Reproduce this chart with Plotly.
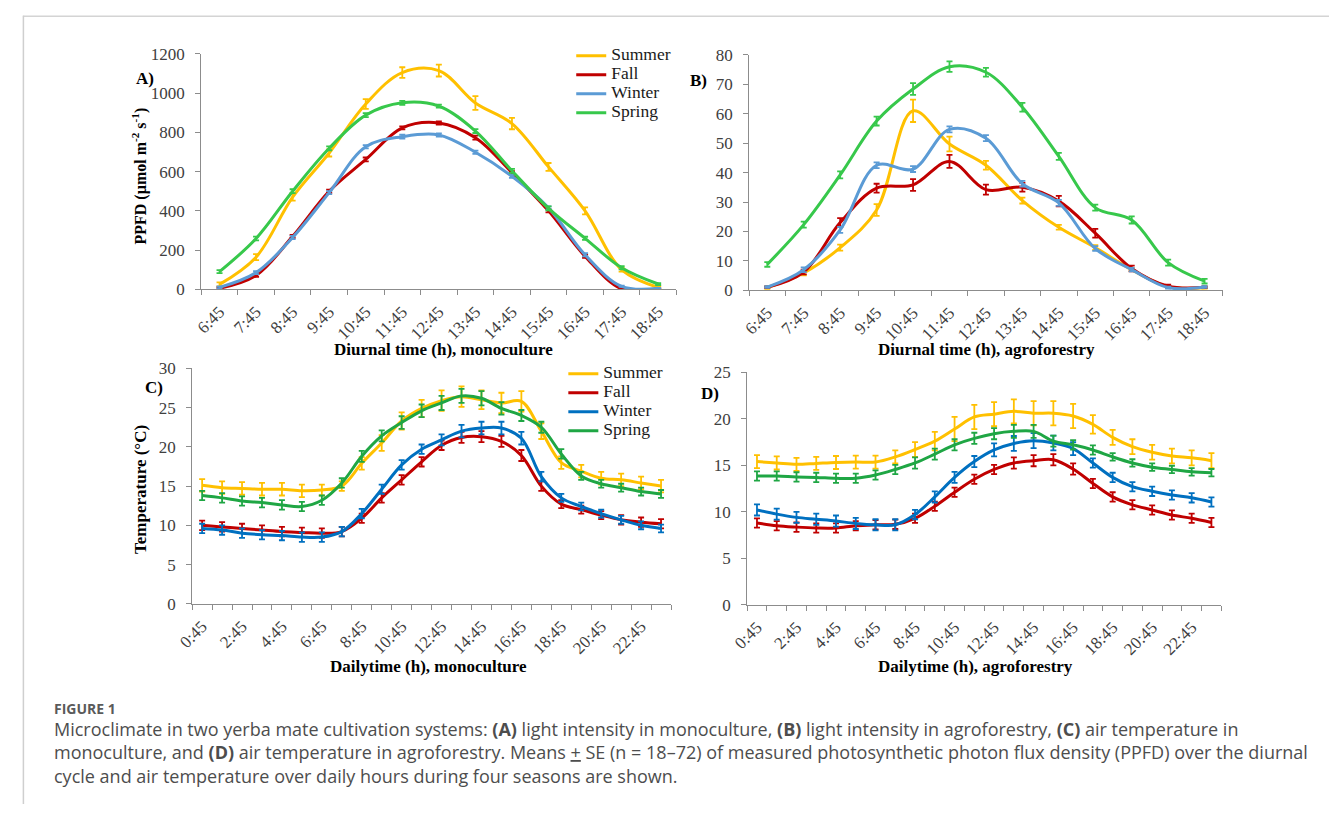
import plotly.graph_objects as go

W, H = 1329, 814
SERIF = "Liberation Serif"
SANS = "Open Sans"
AXIS_COLOR = "#8c8c8c"
TICK_COLOR = "#404040"

SEASONS = ["Summer", "Fall", "Winter", "Spring"]

# time-of-day category labels
DIURNAL_TIMES = ["6:45", "7:45", "8:45", "9:45", "10:45", "11:45", "12:45",
                 "13:45", "14:45", "15:45", "16:45", "17:45", "18:45"]
DAILY_TIMES = ["0:45", "1:45", "2:45", "3:45", "4:45", "5:45", "6:45", "7:45",
               "8:45", "9:45", "10:45", "11:45", "12:45", "13:45", "14:45", "15:45",
               "16:45", "17:45", "18:45", "19:45", "20:45", "21:45", "22:45", "23:45"]

# (A) PPFD, monoculture  (µmol m-2 s-1)
ppfd_mono_summer = [25, 164, 470, 695, 945, 1105, 1115, 950, 845, 624, 400, 100, 10]
ppfd_mono_fall = [5, 71, 270, 500, 662, 823, 848, 773, 595, 400, 168, 2, 0]
ppfd_mono_winter = [10, 85, 264, 493, 727, 778, 787, 699, 576, 415, 176, 15, 5]
ppfd_mono_spring = [90, 259, 500, 719, 888, 951, 934, 807, 604, 413, 260, 110, 27]
ppfd_mono_summer_se = [10, 15, 18, 18, 25, 27, 30, 35, 29, 20, 18, 10, 5]
ppfd_mono_fall_se = [5, 8, 8, 8, 10, 8, 8, 10, 8, 8, 8, 3, 2]
ppfd_mono_winter_se = [5, 8, 8, 8, 8, 10, 8, 8, 8, 8, 8, 3, 2]
ppfd_mono_spring_se = [8, 10, 10, 10, 10, 10, 8, 10, 10, 10, 8, 8, 5]

# (B) PPFD, agroforestry
ppfd_agro_summer = [0.9, 5.9, 14.5, 27.3, 61.0, 49.7, 42.5, 30.5, 21.4, 14.5, 7.0, 1.2, 0.9]
ppfd_agro_fall = [1.0, 6.2, 23.0, 34.7, 35.8, 43.8, 34.2, 35.0, 30.3, 19.4, 7.4, 1.4, 1.0]
ppfd_agro_winter = [1.1, 7.0, 20.5, 42.5, 41.2, 54.7, 51.7, 36.2, 29.7, 14.2, 7.0, 0.9, 1.1]
ppfd_agro_spring = [8.8, 22.3, 39.2, 57.5, 68.4, 76.0, 74.1, 62.2, 45.5, 28.1, 23.9, 9.4, 3.1]
ppfd_agro_summer_se = [0.4, 0.8, 1.0, 2.0, 3.8, 2.5, 1.5, 1.0, 0.8, 0.8, 0.5, 0.3, 0.3]
ppfd_agro_fall_se = [0.3, 0.8, 1.5, 1.5, 2.0, 2.2, 1.7, 1.5, 1.8, 1.5, 1.0, 0.5, 0.3]
ppfd_agro_winter_se = [0.3, 0.8, 1.0, 1.0, 1.0, 1.0, 1.0, 1.0, 1.0, 0.8, 0.6, 0.3, 0.3]
ppfd_agro_spring_se = [0.8, 1.0, 1.2, 1.5, 2.0, 1.8, 1.5, 1.5, 1.2, 1.0, 1.2, 1.0, 0.8]

# (C) air temperature, monoculture (°C)
temp_mono_summer = [15.1, 14.8, 14.7, 14.6, 14.6, 14.4, 14.5, 15.0, 17.9, 20.5, 23.3, 24.9,
                    25.9, 26.4, 26.0, 25.6, 25.8, 22.0, 18.0, 16.9, 16.0, 15.8, 15.4, 15.0]
temp_mono_fall = [10.0, 9.8, 9.6, 9.4, 9.2, 9.1, 9.0, 9.2, 10.9, 13.5, 15.8, 18.1,
                  20.2, 21.2, 21.3, 20.7, 18.9, 15.0, 12.7, 12.0, 11.3, 10.7, 10.4, 10.2]
temp_mono_winter = [9.6, 9.4, 9.0, 8.8, 8.7, 8.5, 8.5, 9.2, 11.5, 14.6, 17.7, 19.7,
                    20.9, 22.0, 22.4, 22.4, 21.1, 16.2, 13.5, 12.4, 11.5, 10.7, 10.0, 9.6]
temp_mono_spring = [13.8, 13.5, 13.1, 12.9, 12.6, 12.4, 13.2, 15.4, 18.8, 21.4, 23.1, 24.6,
                    25.6, 26.5, 26.2, 24.9, 24.0, 22.5, 19.1, 16.3, 15.3, 14.8, 14.3, 14.0]
temp_mono_summer_se = [0.8, 0.8, 0.8, 0.8, 0.8, 0.8, 0.7, 0.6, 0.8, 1.0, 1.1, 1.1,
                       1.3, 1.3, 1.2, 1.3, 1.3, 1.0, 0.8, 0.8, 0.8, 0.8, 0.8, 0.8]
temp_mono_fall_se = [0.6, 0.6, 0.6, 0.6, 0.6, 0.6, 0.6, 0.6, 0.6, 0.6, 0.6, 0.6,
                     0.6, 0.7, 0.7, 0.7, 0.7, 0.6, 0.5, 0.5, 0.5, 0.6, 0.6, 0.6]
temp_mono_winter_se = [0.6, 0.6, 0.6, 0.6, 0.6, 0.6, 0.6, 0.6, 0.6, 0.6, 0.6, 0.6,
                       0.7, 0.8, 0.8, 0.8, 0.8, 0.6, 0.5, 0.5, 0.5, 0.5, 0.5, 0.5]
temp_mono_spring_se = [0.6, 0.6, 0.6, 0.6, 0.6, 0.6, 0.6, 0.6, 0.7, 0.7, 0.8, 0.8,
                       0.9, 0.9, 0.9, 0.8, 0.7, 0.7, 0.6, 0.5, 0.5, 0.5, 0.5, 0.5]

# (D) air temperature, agroforestry (°C)
temp_agro_summer = [15.4, 15.25, 15.1, 15.2, 15.3, 15.35, 15.35, 15.9, 16.7, 17.6, 18.9, 20.2,
                    20.5, 20.8, 20.6, 20.6, 20.3, 19.4, 18.0, 17.0, 16.4, 16.0, 15.8, 15.5]
temp_agro_fall = [8.8, 8.5, 8.35, 8.25, 8.25, 8.5, 8.6, 8.65, 9.3, 10.6, 12.1, 13.5,
                  14.55, 15.25, 15.5, 15.6, 14.6, 13.05, 11.6, 10.75, 10.2, 9.65, 9.3, 8.85]
temp_agro_winter = [10.2, 9.75, 9.4, 9.2, 9.0, 8.75, 8.6, 8.6, 9.7, 11.6, 13.7, 15.4,
                    16.65, 17.35, 17.65, 17.4, 16.8, 15.25, 13.7, 12.7, 12.2, 11.8, 11.5, 11.05]
temp_agro_spring = [13.85, 13.85, 13.75, 13.7, 13.6, 13.6, 13.95, 14.55, 15.25, 16.2, 17.2, 17.9,
                    18.4, 18.65, 18.65, 17.6, 17.2, 16.65, 15.9, 15.25, 14.8, 14.55, 14.3, 14.2]
temp_agro_summer_se = [0.7, 0.7, 0.7, 0.7, 0.7, 0.7, 0.7, 0.7, 0.8, 1.0, 1.3, 1.3,
                       1.3, 1.3, 1.3, 1.3, 1.3, 1.0, 0.8, 0.8, 0.8, 0.8, 0.8, 0.8]
temp_agro_fall_se = [0.5, 0.5, 0.5, 0.5, 0.5, 0.5, 0.5, 0.5, 0.5, 0.5, 0.5, 0.5,
                     0.5, 0.6, 0.6, 0.6, 0.6, 0.5, 0.5, 0.5, 0.5, 0.5, 0.5, 0.5]
temp_agro_winter_se = [0.6, 0.6, 0.6, 0.6, 0.6, 0.6, 0.6, 0.6, 0.5, 0.6, 0.6, 0.6,
                       0.7, 0.8, 0.8, 0.8, 0.7, 0.5, 0.5, 0.5, 0.5, 0.5, 0.5, 0.5]
temp_agro_spring_se = [0.5, 0.5, 0.5, 0.5, 0.5, 0.5, 0.5, 0.5, 0.6, 0.6, 0.6, 0.6,
                       0.6, 0.7, 0.7, 0.6, 0.5, 0.5, 0.4, 0.4, 0.4, 0.4, 0.4, 0.4]

COLORS_LIGHT = ["#FFC000", "#C00000", "#5B9BD5", "#37C84B"]
COLORS_TEMP = ["#FFC000", "#C00000", "#0070C0", "#1FA644"]


def to_hours(label):
    h, m = label.split(":")
    return int(h) + int(m) / 60.0


def fx(px):
    return px / W


def fy(py):
    return 1 - py / H


diurnal_x = [to_hours(t) for t in DIURNAL_TIMES]
daily_x = [to_hours(t) for t in DAILY_TIMES]

fig = go.Figure()

panels = [
    ("x", "y", diurnal_x, [ppfd_mono_summer, ppfd_mono_fall, ppfd_mono_winter, ppfd_mono_spring],
     [ppfd_mono_summer_se, ppfd_mono_fall_se, ppfd_mono_winter_se, ppfd_mono_spring_se], COLORS_LIGHT, "legend"),
    ("x2", "y2", diurnal_x, [ppfd_agro_summer, ppfd_agro_fall, ppfd_agro_winter, ppfd_agro_spring],
     [ppfd_agro_summer_se, ppfd_agro_fall_se, ppfd_agro_winter_se, ppfd_agro_spring_se], COLORS_LIGHT, None),
    ("x3", "y3", daily_x, [temp_mono_summer, temp_mono_fall, temp_mono_winter, temp_mono_spring],
     [temp_mono_summer_se, temp_mono_fall_se, temp_mono_winter_se, temp_mono_spring_se], COLORS_TEMP, "legend2"),
    ("x4", "y4", daily_x, [temp_agro_summer, temp_agro_fall, temp_agro_winter, temp_agro_spring],
     [temp_agro_summer_se, temp_agro_fall_se, temp_agro_winter_se, temp_agro_spring_se], COLORS_TEMP, None),
]

for xa, ya, xs, series, errs, colors, leg in panels:
    for name, ys, se, c in zip(SEASONS, series, errs, colors):
        kw = dict(legend=leg, showlegend=True) if leg else dict(showlegend=False)
        fig.add_trace(go.Scatter(
            x=xs, y=ys, xaxis=xa, yaxis=ya, mode="lines",
            name='<span style="font-size:17.5px">%s</span>' % name,
            line=dict(color=c, width=3, shape="spline", smoothing=1.0),
            error_y=dict(type="data", array=se, visible=True, color=c, thickness=1.8, width=3),
            hoverinfo="skip", **kw))


def x_axis(dom, rng, vals, texts, anchor):
    return dict(domain=[fx(dom[0]), fx(dom[1])], range=rng, anchor=anchor,
                tickmode="array", tickvals=vals, ticktext=texts, tickangle=-45,
                ticks="outside", ticklen=5, tickcolor="rgba(0,0,0,0)",
                showline=True, linecolor=AXIS_COLOR, linewidth=1,
                showgrid=False, zeroline=False,
                tickfont=dict(family=SERIF, size=17, color=TICK_COLOR),
                minor=dict(tickmode="linear", tick0=rng[0], dtick=1, ticks="outside",
                           ticklen=5, tickcolor=AXIS_COLOR, tickwidth=1, showgrid=False))


def y_axis(dom, rng, dt, anchor):
    return dict(domain=[fy(dom[1]), fy(dom[0])], range=rng, anchor=anchor, dtick=dt,
                tickmode="linear", tick0=0,
                ticks="outside", ticklen=5, tickcolor=AXIS_COLOR, ticklabelstandoff=7,
                showline=True, linecolor=AXIS_COLOR, linewidth=1,
                showgrid=False, zeroline=False,
                tickfont=dict(family=SERIF, size=17, color=TICK_COLOR))


d_rng = [diurnal_x[0] - 0.5, diurnal_x[-1] + 0.5]
a_rng = [daily_x[0] - 0.5, daily_x[-1] + 0.5]

fig.update_layout(
    xaxis=x_axis((187.5, 668.5), d_rng, diurnal_x, DIURNAL_TIMES, "y"),
    yaxis=y_axis((46, 287), [0, 1200], 200, "x"),
    xaxis2=x_axis((742, 1221.5), d_rng, diurnal_x, DIURNAL_TIMES, "y2"),
    yaxis2=y_axis((47, 288), [0, 80], 10, "x2"),
    xaxis3=x_axis((178.3, 663), a_rng, daily_x[::2], DAILY_TIMES[::2], "y3"),
    yaxis3=y_axis((368, 609), [0, 30], 5, "x3"),
    xaxis4=x_axis((740, 1220), a_rng, daily_x[::2], DAILY_TIMES[::2], "y4"),
    yaxis4=y_axis((372, 610), [0, 25], 5, "x4"),
)

legend_style = dict(font=dict(family=SERIF, size=11.5, color="#1a1a1a"), bgcolor="rgba(0,0,0,0)",
                    borderwidth=0, xanchor="left", yanchor="top", tracegroupgap=0,
                    itemclick=False, itemdoubleclick=False)
fig.update_layout(
    legend=dict(x=fx(562), y=fy(33), **legend_style),
    legend2=dict(x=fx(554), y=fy(358.5), **legend_style),
)

annotations = []


def txt(x, y, s, size=17, family=SERIF, color="#000000", angle=0, xanchor="center"):
    annotations.append(dict(xref="paper", yref="paper", x=fx(x), y=fy(y), text=s,
                            showarrow=False, textangle=angle, xanchor=xanchor, yanchor="middle",
                            font=dict(family=family, size=size, color=color)))


# panel tags
txt(131, 71, "<b>A)</b>")
txt(691, 73, "<b>B)</b>")
txt(140, 388, "<b>C)</b>")
txt(702, 394, "<b>D)</b>")

# axis titles
txt(433, 349, "<b>Diurnal time (h), monoculture</b>")
txt(982, 349, "<b>Diurnal time (h), agroforestry</b>")
txt(418, 673, "<b>Dailytime (h), monoculture</b>")
txt(971, 673, "<b>Dailytime (h), agroforestry</b>")
txt(125, 171, "<b>PPFD (µmol m<sup>-2</sup> s<sup>-1</sup>)</b>", size=16, angle=-90)
txt(126, 492, "<b>Temperature (°C)</b>", angle=-90)

# figure caption
CAP = "#4d4d4d"
txt(36, 716, "<b>FIGURE 1</b>", size=14, family=SANS, color="#5a5a5a", xanchor="left")
caption_lines = [
    "Microclimate in two yerba mate cultivation systems: <b>(A)</b> light intensity in monoculture, "
    "<b>(B)</b> light intensity in agroforestry, <b>(C)</b> air temperature in",
    "monoculture, and <b>(D)</b> air temperature in agroforestry. Means <u>+</u> SE (n = 18–72) of measured "
    "photosynthetic photon flux density (PPFD) over the diurnal",
    "cycle and air temperature over daily hours during four seasons are shown.",
]
for i, line in enumerate(caption_lines):
    txt(36, 737 + 24 * i, line, size=18, family=SANS, color=CAP, xanchor="left")

fig.update_layout(
    annotations=annotations,
    shapes=[
        dict(type="line", xref="paper", yref="paper", x0=fx(7), x1=1, y0=fy(7.5), y1=fy(7.5),
             line=dict(color="#d4d4d4", width=1.5)),
        dict(type="line", xref="paper", yref="paper", x0=fx(7.5), x1=fx(7.5), y0=fy(7), y1=0,
             line=dict(color="#cfcfcf", width=1.5)),
    ],
    width=W, height=H, autosize=False,
    margin=dict(l=0, r=0, t=0, b=0),
    paper_bgcolor="white", plot_bgcolor="white",
    showlegend=True,
)

fig.write_html("out.html", config={"displayModeBar": False})
